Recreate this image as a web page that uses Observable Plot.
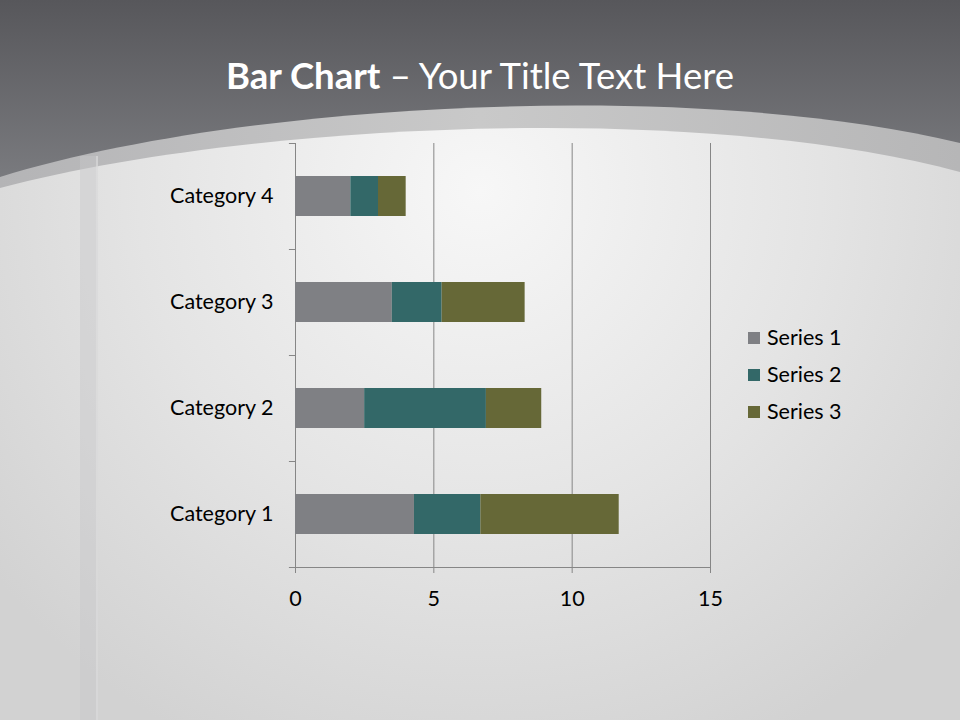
<!DOCTYPE html>
<html>
<head>
<meta charset="utf-8">
<script src="https://cdn.jsdelivr.net/npm/d3@7"></script>
<script src="https://cdn.jsdelivr.net/npm/@observablehq/plot@0.6"></script>
<style>
  html, body { margin: 0; padding: 0; background: #d8d8d8; }
  #wrap { position: relative; width: 960px; height: 720px; overflow: hidden; font-family: Lato, "Open Sans", sans-serif; }
  #bg { position: absolute; left: 0; top: 0; }
  #title { position: absolute; left: 0; top: 51px; width: 960px; text-align: center; color: #fff; font-size: 36.5px; line-height: 48px; white-space: nowrap; }
  #title b { font-weight: 700; }
  #chart { position: absolute; left: 0; top: 0; }
  #legend { position: absolute; left: 748px; top: 319px; font-size: 21.5px; color: #000; }
  #legend .row { display: flex; align-items: center; height: 37px; line-height: 37px; margin-top: 0; }
  #legend .sw { width: 12px; height: 12px; margin-right: 7px; }
</style>
</head>
<body>
<div id="wrap">
  <svg id="bg" width="960" height="720" viewBox="0 0 960 720">
    <defs>
      <linearGradient id="top" x1="0" y1="0" x2="0" y2="1">
        <stop offset="0" stop-color="#57575b"/>
        <stop offset="0.3" stop-color="#818286"/>
        <stop offset="1" stop-color="#818286"/>
      </linearGradient>
      <linearGradient id="band" x1="0" y1="0" x2="1" y2="0">
        <stop offset="0" stop-color="#b4b4b6"/>
        <stop offset="0.5" stop-color="#c9c9c9"/>
        <stop offset="1" stop-color="#b6b6b7"/>
      </linearGradient>
      <radialGradient id="inner" cx="480" cy="190" r="620" gradientUnits="userSpaceOnUse">
        <stop offset="0" stop-color="#f7f7f7"/>
        <stop offset="0.55" stop-color="#e4e4e4"/>
        <stop offset="1" stop-color="#d2d2d2"/>
      </radialGradient>
    </defs>
    <rect x="0" y="0" width="960" height="720" fill="url(#top)"/>
    <path d="M0,177 C250,100 700,80 960,143 L960,720 L0,720 Z" fill="url(#band)"/>
    <path d="M0,188 C250,122 700,102 960,172 L960,720 L0,720 Z" fill="url(#inner)"/>
    <rect x="80" y="156" width="18" height="564" fill="#c8c8c9" opacity="0.45"/>
    <rect x="96" y="156" width="2" height="564" fill="#e2e2e2" opacity="0.5"/>
  </svg>
  <div id="title"><b>Bar Chart</b> – Your Title Text Here</div>
  <div id="chart"></div>
  <div id="legend"></div>
</div>
<script>
const categories = ["Category 1", "Category 2", "Category 3", "Category 4"];
const seriesNames = ["Series 1", "Series 2", "Series 3"];
const series1 = [4.3, 2.5, 3.5, 2];
const series2 = [2.4, 4.4, 1.8, 1];
const series3 = [5, 2, 3, 1];
const seriesColors = ["#7f8084", "#336868", "#666837"];
const xTicks = [0, 5, 10, 15];

const seriesValues = [series1, series2, series3];
const data = categories.flatMap((c, i) =>
  seriesNames.map((s, j) => ({category: c, series: s, value: seriesValues[j][i]}))
);

const axisColor = "#868686";

const chart = Plot.plot({
  width: 960,
  height: 720,
  marginLeft: 295,
  marginRight: 250,
  marginTop: 143,
  marginBottom: 153,
  style: {background: "transparent", fontFamily: "Lato, 'Open Sans', sans-serif", fontSize: "21.5px", color: "#000"},
  x: {domain: [0, 15]},
  y: {domain: categories.slice().reverse(), paddingInner: 0.62, paddingOuter: 0.31},
  color: {domain: seriesNames, range: seriesColors},
  marks: [
    Plot.ruleX(xTicks, {stroke: axisColor, strokeOpacity: 1}),
    Plot.barX(data, Plot.stackX({x: "value", y: "category", fill: "series", order: seriesNames})),
    Plot.ruleY(categories, {y: d => d, dy: 53, x1: -0.22, x2: 0, stroke: axisColor}),
    Plot.ruleY([categories[categories.length - 1]], {y: d => d, dy: -53, x1: -0.22, x2: 0, stroke: axisColor}),
    Plot.frame({anchor: "bottom", stroke: axisColor}),
    Plot.axisY({tickSize: 0, tickPadding: 22, label: null, fill: "#000"}),
    Plot.axisX({ticks: xTicks, tickSize: 6, tickPadding: 17, label: null, stroke: axisColor, fill: "#000"})
  ]
});
document.getElementById("chart").appendChild(chart);

const legend = document.getElementById("legend");
seriesNames.forEach((s, i) => {
  const row = document.createElement("div");
  row.className = "row";
  const sw = document.createElement("span");
  sw.className = "sw";
  sw.style.background = seriesColors[i];
  const t = document.createElement("span");
  t.textContent = s;
  row.appendChild(sw);
  row.appendChild(t);
  legend.appendChild(row);
});
</script>
</body>
</html>
